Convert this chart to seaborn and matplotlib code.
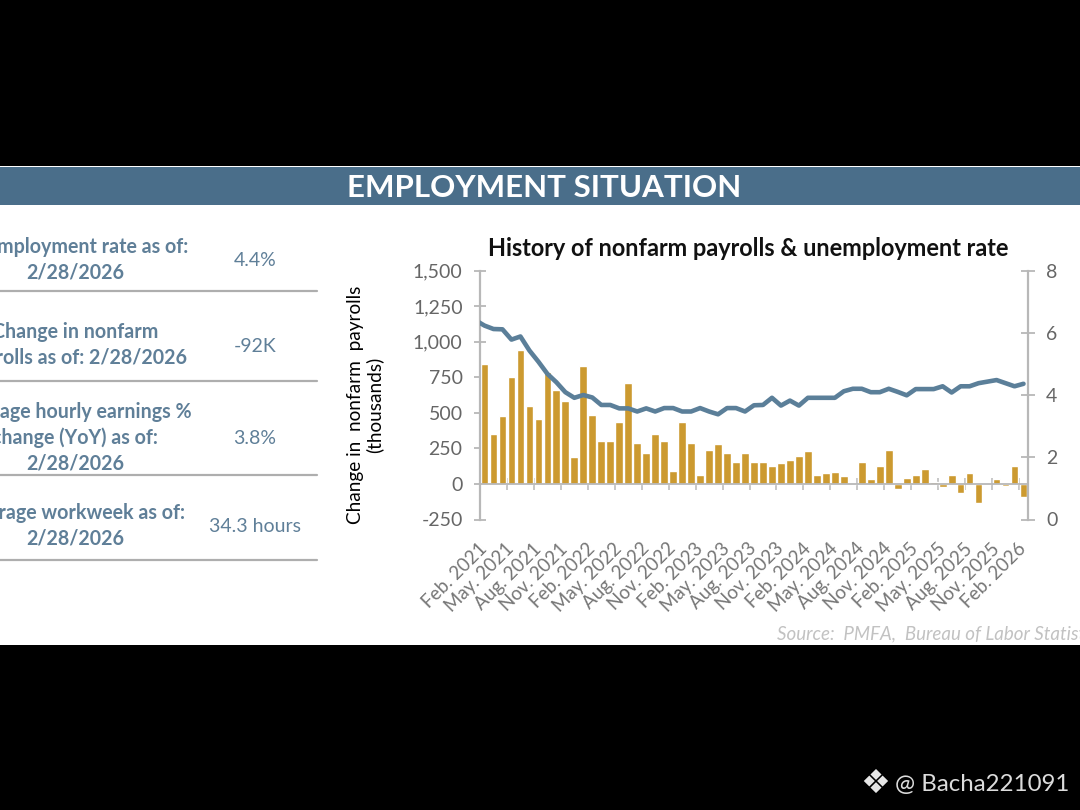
import numpy as np
import matplotlib
matplotlib.use("Agg")
import matplotlib.pyplot as plt
from matplotlib.patches import Rectangle
from matplotlib.lines import Line2D
import seaborn as sns

sns.set_theme(style="white")
plt.rcParams['font.family'] = ['Lato', 'DejaVu Sans']

payrolls = [845,353,475,753,938,548,454,786,662,580,187,830,484,300,300,435,711,290,220,353,
            300,94,435,290,65,241,281,220,157,220,157,157,126,147,168,199,229,65,77,86,
            54,2,157,33,126,241,-35,44,65,105,14,-20,65,-65,77,-135,0,33,-15,126,-92]
# first value is Jan. 2021, which the plot clips at the left axis
unemployment = [6.40,6.23,6.12,6.11,5.78,5.88,5.43,5.07,4.68,4.41,4.09,3.91,4.00,3.92,3.68,3.68,
                3.57,3.57,3.47,3.57,3.47,3.58,3.58,3.47,3.47,3.58,3.47,3.38,3.58,3.58,3.47,3.67,
                3.68,3.91,3.66,3.82,3.66,3.91,3.91,3.91,3.91,4.12,4.20,4.20,4.09,4.09,4.20,4.10,
                3.99,4.19,4.19,4.19,4.28,4.08,4.28,4.28,4.38,4.43,4.48,4.38,4.28,4.36]
tick_labels = ["Feb. 2021","May. 2021","Aug. 2021","Nov. 2021","Feb. 2022","May. 2022","Aug. 2022",
               "Nov. 2022","Feb. 2023","May. 2023","Aug. 2023","Nov. 2023","Feb. 2024","May. 2024",
               "Aug. 2024","Nov. 2024","Feb. 2025","May. 2025","Aug. 2025","Nov. 2025","Feb. 2026"]
left_labels = ["Unemployment rate as of:\n2/28/2026",
               "Change in nonfarm\npayrolls as of: 2/28/2026",
               "Average hourly earnings %\nchange (YoY) as of:\n2/28/2026",
               "Average workweek as of:\n2/28/2026"]
left_values = ["4.4%", "-92K", "3.8%", "34.3 hours"]

W, H = 1080, 810
BLUE, GOLD, LINE = "#4a6e8a", "#cc9a30", "#5b7f99"
TXT, GREY, AXC = "#5f7f98", "#666666", "#b8b8b8"
def fx(p): return p / W
def fy(p): return 1 - p / H

fig = plt.figure(figsize=(W/100, H/100), dpi=100, facecolor="black")
fig.add_artist(Rectangle((0, fy(645)), 1, (645-166)/H, transform=fig.transFigure, fc="white", ec="none", zorder=-5))
fig.add_artist(Rectangle((0, fy(205)), 1, (205-167)/H, transform=fig.transFigure, fc=BLUE, ec="none", zorder=-4))
fig.text(fx(544), fy(188), "EMPLOYMENT SITUATION", color="white", fontsize=22.5, fontweight="bold", ha="center", va="center")

rows_y = [259.5, 345, 438, 526]
value_y = [260, 346, 439, 527]
rule_y = [291, 381, 475, 560]
for lab, val, y, vy, r in zip(left_labels, left_values, rows_y, value_y, rule_y):
    fig.text(fx(75), fy(y), lab, color=TXT, fontsize=14.1, fontweight="bold", ha="center", va="center", linespacing=1.33)
    fig.text(fx(255), fy(vy), val, color=TXT, fontsize=14, ha="center", va="center")
    fig.add_artist(Line2D([0, fx(317)], [fy(r), fy(r)], color="#aeaeae", lw=1.6, transform=fig.transFigure))

ax = fig.add_axes([fx(480), fy(519.5), (1028-480)/W, (519.5-270.5)/H], facecolor="none")
x_bars = np.arange(len(payrolls))
x_line = np.arange(len(unemployment)) - 1
sns.barplot(x=x_bars, y=payrolls, native_scale=True, color=GOLD, width=0.86, saturation=1, ax=ax)
ax.set_xlim(-0.5, 60.5)
ax.set_ylim(-250, 1500)
ax.set_yticks(np.arange(-250, 1501, 250))
ax.set_yticklabels([f"{v:,}" for v in np.arange(-250, 1501, 250)], color=GREY, fontsize=14)
ax.set_xticks(np.arange(-0.5, 60, 3))
ax.set_xticklabels([])
ax.set_xlabel("")
ax.set_ylabel("")
for s in ("top", "right"):
    ax.spines[s].set_visible(False)
ax.spines["bottom"].set_position(("data", 0))
ax.spines["bottom"].set_color(AXC); ax.spines["bottom"].set_linewidth(1.3)
ax.spines["left"].set_color(AXC); ax.spines["left"].set_linewidth(1.6)
ax.tick_params(axis="x", bottom=True, direction="inout", length=8, width=1.1, color=AXC)
ax.tick_params(axis="y", left=True, direction="inout", length=9, width=1.3, color=AXC, pad=8)

sec = ax.secondary_xaxis(0)
sec.set_xticks(np.arange(0, 61, 3))
sec.set_xticklabels(tick_labels, rotation=45, ha="right", va="center", rotation_mode="anchor", color="#767676", fontsize=13.5)
sec.tick_params(length=0, pad=19)
sec.spines["bottom"].set_visible(False)

ax2 = ax.twinx()
ax2.patch.set_visible(False)
sns.lineplot(x=x_line, y=unemployment, color=LINE, lw=3.3, ax=ax2, errorbar=None)
ax2.set_xlim(-0.5, 60.5)
ax2.set_ylim(0, 8)
ax2.set_yticks([0, 2, 4, 6, 8])
ax2.set_yticklabels(["0", "2", "4", "6", "8"], color=GREY, fontsize=14)
ax2.set_ylabel("")
for s in ("top", "left", "bottom"):
    ax2.spines[s].set_visible(False)
ax2.spines["right"].set_color(AXC); ax2.spines["right"].set_linewidth(1.6)
ax2.tick_params(axis="y", right=True, direction="inout", length=10, width=1.3, color=AXC, pad=8)

fig.text(fx(748), fy(248), "History of nonfarm payrolls & unemployment rate", color="#111111", fontsize=16.95, fontweight="bold", ha="center", va="center")
fig.text(fx(365), fy(405), "Change in  nonfarm  payrolls\n(thousands)", color="black", fontsize=13.7, rotation=90, ha="center", va="center", linespacing=1.1)
fig.text(fx(777), fy(634), "Source:  PMFA,  Bureau of Labor Statistics", color="#c2c2c2", fontsize=13.5, style="italic", ha="left", va="center")
fig.text(fx(875), fy(784), "❖", color="#e6e6e6", fontsize=24, ha="center", va="center")
fig.text(fx(895), fy(784), "@ Bacha221091", color="#dcdcdc", fontsize=17.3, ha="left", va="center")

fig.savefig("out.png", dpi=100, facecolor="black")
